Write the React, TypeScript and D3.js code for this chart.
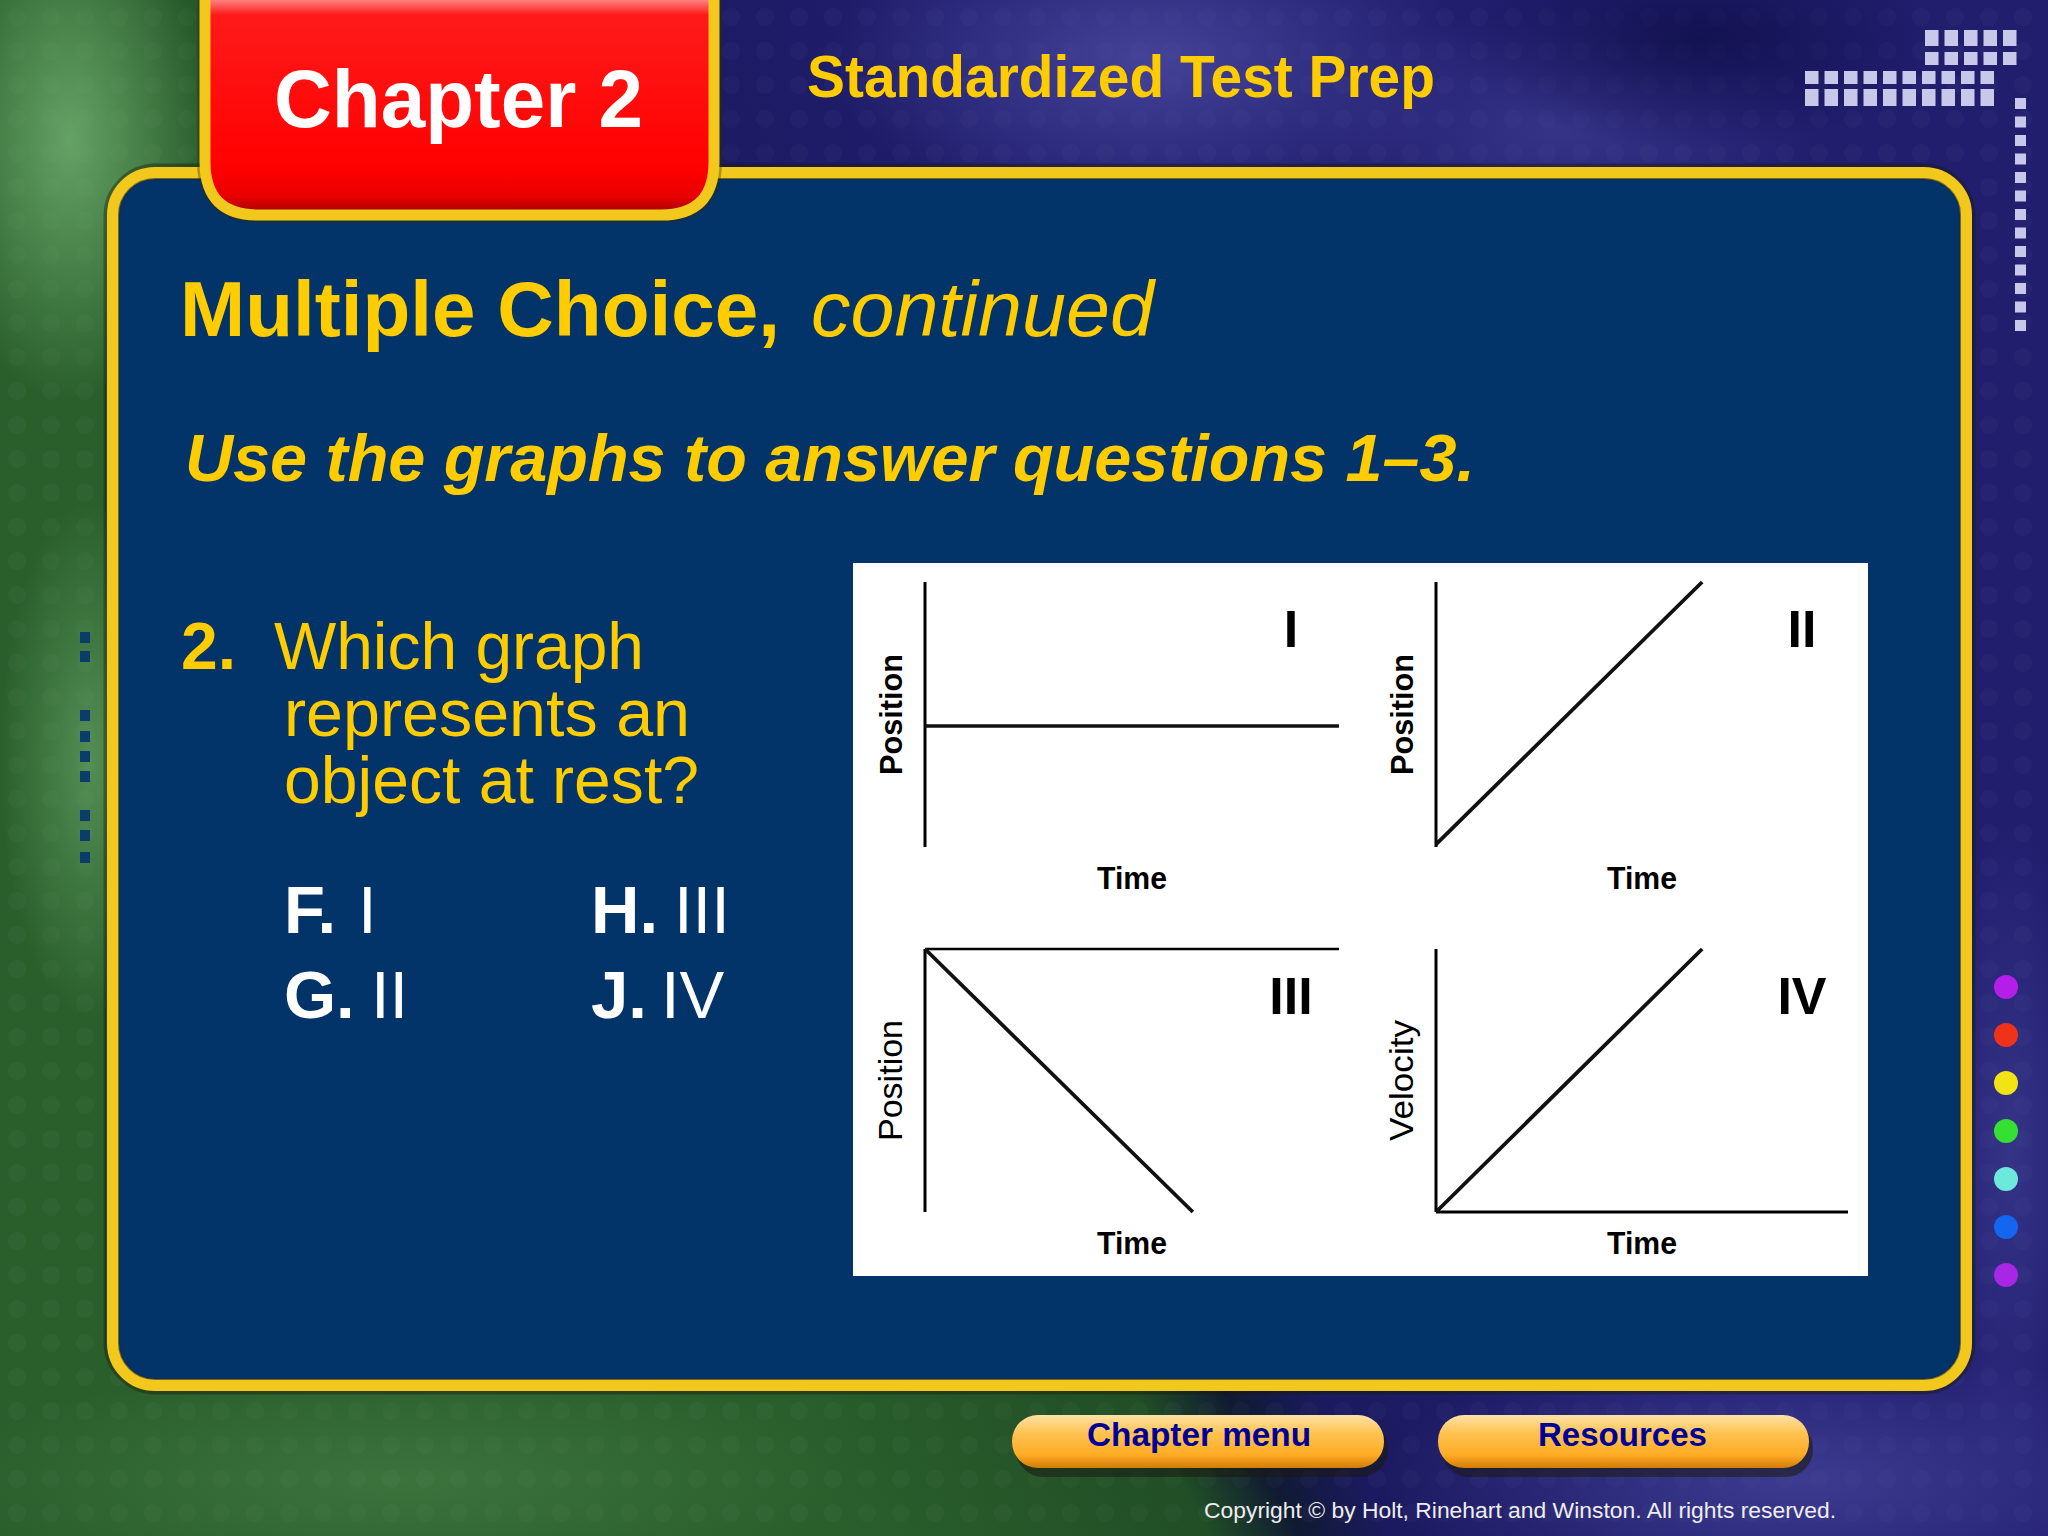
import React from 'react';
import * as d3 from 'd3';

// ---------- data ----------
const graphIds = ['I', 'II', 'III', 'IV'];
const yAxisLabels = ['Position', 'Position', 'Position', 'Velocity'];
const yLabelBold = [true, true, false, false];
const xAxisLabel = 'Time';
const axisSides = [['left'], ['left'], ['left', 'top'], ['left', 'bottom']];
const seriesI: [number, number][] = [[0, 0.457], [1, 0.457]];
const seriesII: [number, number][] = [[0, 0.01], [0.646, 1]];
const seriesIII: [number, number][] = [[0, 1], [0.647, 0]];
const seriesIV: [number, number][] = [[0, 0], [0.646, 1]];
const seriesList = [seriesI, seriesII, seriesIII, seriesIV];

const questionNumber = '2.';
const questionLines = ['Which graph', 'represents an', 'object at rest?'];
const choiceLetters = ['F.', 'G.', 'H.', 'J.'];
const choiceValues = ['I', 'II', 'III', 'IV'];
const navButtons = ['Chapter menu', 'Resources'];
const dotColors = ['#b41ee8', '#f0321a', '#f2e414', '#34e032', '#6ce8dc', '#1466f0', '#a826e6'];
const leftSquareRows = [632, 651, 710, 731, 751, 771, 810, 830, 852];

const FONT = '"Liberation Sans", Arial, Helvetica, sans-serif';

export default function App() {
  React.useEffect(() => {
    document.body.style.margin = '0';
  }, []);

  const W = 2048;
  const H = 1536;

  // graph frames (layout)
  const frames = [
    { x0: 925, x1: 1339, y0: 582, y1: 847 },
    { x0: 1436, x1: 1848, y0: 582, y1: 847 },
    { x0: 925, x1: 1339, y0: 949, y1: 1212 },
    { x0: 1436, x1: 1848, y0: 949, y1: 1212 },
  ];

  const graphs = frames.map((f, i) => {
    const x = d3.scaleLinear().domain([0, 1]).range([f.x0, f.x1]);
    const y = d3.scaleLinear().domain([0, 1]).range([f.y1, f.y0]);
    const line = d3
      .line<[number, number]>()
      .x((d) => x(d[0]))
      .y((d) => y(d[1]));
    return { f, x, y, path: line(seriesList[i]) || '', i };
  });

  const topRowSquares: { x: number; y: number; w: number; h: number }[] = [];
  for (let k = 0; k < 5; k++) topRowSquares.push({ x: 1925 + k * 19.5, y: 30, w: 13.5, h: 16 });
  for (let k = 0; k < 5; k++) topRowSquares.push({ x: 1925 + k * 19.5, y: 52, w: 13.5, h: 13 });
  for (let k = 0; k < 10; k++) topRowSquares.push({ x: 1805 + k * 19.5, y: 71, w: 13.5, h: 13 });
  for (let k = 0; k < 10; k++) topRowSquares.push({ x: 1805 + k * 19.5, y: 89, w: 13.5, h: 17 });
  for (let k = 0; k < 13; k++) topRowSquares.push({ x: 2015, y: 98 + k * 18.5, w: 11, h: 11 });

  return (
    <svg
      width={W}
      height={H}
      viewBox={`0 0 ${W} ${H}`}
      style={{ position: 'absolute', left: 0, top: 0, display: 'block' }}
      fontFamily={FONT}
    >
      <defs>
        <linearGradient id="bg" gradientUnits="userSpaceOnUse" x1="545" y1="953" x2="1255" y2="583">
          <stop offset="0" stopColor="#2a5f2c" />
          <stop offset="0.4" stopColor="#214e26" />
          <stop offset="0.5" stopColor="#101a32" />
          <stop offset="0.6" stopColor="#1b1a60" />
          <stop offset="1" stopColor="#211e6e" />
        </linearGradient>
        <radialGradient id="glowGreen" cx="0.5" cy="0.5" r="0.5">
          <stop offset="0" stopColor="#78b878" stopOpacity="0.75" />
          <stop offset="1" stopColor="#78b878" stopOpacity="0" />
        </radialGradient>
        <radialGradient id="glowPurple" cx="0.5" cy="0.5" r="0.5">
          <stop offset="0" stopColor="#5252aa" stopOpacity="0.7" />
          <stop offset="1" stopColor="#5252aa" stopOpacity="0" />
        </radialGradient>
        <radialGradient id="glowDark" cx="0.5" cy="0.5" r="0.5">
          <stop offset="0" stopColor="#0c0c44" stopOpacity="0.7" />
          <stop offset="1" stopColor="#0c0c44" stopOpacity="0" />
        </radialGradient>
        <linearGradient id="tabRed" gradientUnits="userSpaceOnUse" x1="0" y1="0" x2="0" y2="212">
          <stop offset="0" stopColor="#ff8080" />
          <stop offset="0.07" stopColor="#ff1a1a" />
          <stop offset="0.8" stopColor="#ff0000" />
          <stop offset="0.93" stopColor="#e80000" />
          <stop offset="1" stopColor="#a80000" />
        </linearGradient>
        <linearGradient id="btn" x1="0" y1="0" x2="0" y2="1">
          <stop offset="0" stopColor="#ffe2a6" />
          <stop offset="0.35" stopColor="#ffc250" />
          <stop offset="0.75" stopColor="#ffac26" />
          <stop offset="1" stopColor="#d27c06" />
        </linearGradient>
        <pattern id="dots" width="34" height="34" patternUnits="userSpaceOnUse">
          <circle cx="17" cy="17" r="9" fill="#ffffff" opacity="0.025" />
        </pattern>
      </defs>

      {/* background */}
      <rect x={0} y={0} width={W} height={H} fill="url(#bg)" />
      <rect x={0} y={0} width={W} height={H} fill="url(#dots)" />
      <ellipse cx={70} cy={140} rx={140} ry={260} fill="url(#glowGreen)" />
      <ellipse cx={90} cy={760} rx={90} ry={260} fill="url(#glowGreen)" opacity={0.7} />
      <ellipse cx={400} cy={1480} rx={450} ry={120} fill="url(#glowGreen)" opacity={0.3} />
      <ellipse cx={1150} cy={60} rx={320} ry={160} fill="url(#glowPurple)" />
      <ellipse cx={1560} cy={130} rx={260} ry={120} fill="url(#glowPurple)" opacity={0.6} />
      <ellipse cx={1800} cy={1480} rx={420} ry={140} fill="url(#glowPurple)" opacity={0.8} />
      <ellipse cx={2010} cy={1150} rx={80} ry={330} fill="url(#glowPurple)" opacity={0.6} />
      <ellipse cx={1700} cy={40} rx={240} ry={110} fill="url(#glowDark)" />

      {/* decorative squares */}
      {topRowSquares.map((s, k) => (
        <rect key={'sq' + k} x={s.x} y={s.y} width={s.w} height={s.h} fill="#c8c8ea" />
      ))}
      {leftSquareRows.map((yy, k) => (
        <rect key={'ls' + k} x={80} y={yy} width={10} height={11} fill="#0c3c6c" />
      ))}
      {dotColors.map((c, k) => (
        <circle key={'dot' + k} cx={2006} cy={987 + k * 48} r={12} fill={c} />
      ))}

      {/* main panel */}
      <rect x={111} y={171} width={1857} height={1216} rx={45} fill="none" stroke="#1a1a08" strokeWidth={15} opacity={0.4} />
      <rect x={113} y={173} width={1853} height={1212} rx={42} fill="#02346a" stroke="#f2c81c" strokeWidth={12} />
      <rect x={119} y={179} width={1841} height={1200} rx={36} fill="none" stroke="#1a2a30" strokeWidth={2} opacity={0.6} />

      {/* chapter tab */}
      <path
        d="M 205 -20 V 162 Q 205 215 258 215 H 661 Q 714 215 714 162 V -20"
        fill="none"
        stroke="#3a2a00"
        strokeWidth={16}
        opacity={0.35}
      />
      <path
        d="M 205 -20 V 162 Q 205 215 258 215 H 661 Q 714 215 714 162 V -20 Z"
        fill="url(#tabRed)"
        stroke="#f2c81c"
        strokeWidth={11}
      />
      <text x={274} y={127} fontSize={82} fontWeight="bold" fill="#ffffff" textLength={369} lengthAdjust="spacingAndGlyphs">
        Chapter 2
      </text>
      <text x={807} y={97} fontSize={59} fontWeight="bold" fill="#ffcc00" textLength={628} lengthAdjust="spacingAndGlyphs">
        Standardized Test Prep
      </text>

      {/* headings */}
      <text x={180} y={336} fontSize={78} fontWeight="bold" fill="#ffcc00" textLength={600} lengthAdjust="spacingAndGlyphs">
        Multiple Choice,
      </text>
      <text x={811} y={336} fontSize={78} fontStyle="italic" fill="#ffcc00" textLength={343} lengthAdjust="spacingAndGlyphs">
        continued
      </text>
      <text x={185} y={481} fontSize={66} fontWeight="bold" fontStyle="italic" fill="#ffcc00" textLength={1290} lengthAdjust="spacingAndGlyphs">
        Use the graphs to answer questions 1–3.
      </text>

      {/* question */}
      <text x={181} y={669} fontSize={66} fontWeight="bold" fill="#ffcc00">
        {questionNumber}
      </text>
      {questionLines.map((t, k) => (
        <text
          key={'q' + k}
          x={k === 0 ? 274 : 284}
          y={669 + k * 67}
          fontSize={66}
          fill="#ffcc00"
          textLength={[370, 406, 415][k]}
          lengthAdjust="spacingAndGlyphs"
        >
          {t}
        </text>
      ))}

      {/* choices */}
      {choiceLetters.map((c, k) => {
        const col = k < 2 ? 0 : 1;
        const row = k % 2;
        const lx = col === 0 ? 284 : 591;
        const vx = [358, 371, 674, 661][k];
        const by = row === 0 ? 933 : 1018;
        return (
          <g key={'c' + k}>
            <text x={lx} y={by} fontSize={67} fontWeight="bold" fill="#ffffff">
              {c}
            </text>
            <text x={vx} y={by} fontSize={67} fill="#ffffff">
              {choiceValues[k]}
            </text>
          </g>
        );
      })}

      {/* graphs */}
      <rect x={853} y={563} width={1015} height={713} fill="#ffffff" />
      {graphs.map(({ f, x, y, path, i }) => {
        const [xa, xb] = x.range();
        const [yb, ya] = y.range();
        const sides = axisSides[i];
        return (
          <g key={'g' + i}>
            {sides.includes('left') && (
              <line x1={xa} x2={xa} y1={ya} y2={yb} stroke="#000" strokeWidth={3} />
            )}
            {sides.includes('top') && (
              <line x1={xa} x2={xb} y1={ya} y2={ya} stroke="#000" strokeWidth={2.5} />
            )}
            {sides.includes('bottom') && (
              <line x1={xa} x2={xb} y1={yb} y2={yb} stroke="#000" strokeWidth={3} />
            )}
            <path d={path} fill="none" stroke="#111" strokeWidth={i === 0 ? 3.5 : 3.8} />
            <text
              x={xa + 366}
              y={ya + 65}
              fontSize={52}
              fontWeight="bold"
              textAnchor="middle"
              fill="#000"
            >
              {graphIds[i]}
            </text>
            <text
              transform={`translate(${xa - 23},${(ya + yb) / 2}) rotate(-90)`}
              fontSize={yLabelBold[i] ? 31 : 33}
              fontWeight={yLabelBold[i] ? 'bold' : 'normal'}
              textAnchor="middle"
              fill="#000"
              textLength={121}
              lengthAdjust="spacingAndGlyphs"
            >
              {yAxisLabels[i]}
            </text>
            <text
              x={(xa + xb) / 2}
              y={yb + 42}
              fontSize={31}
              fontWeight="bold"
              textAnchor="middle"
              fill="#000"
              textLength={70}
              lengthAdjust="spacingAndGlyphs"
            >
              {xAxisLabel}
            </text>
          </g>
        );
      })}

      {/* nav buttons */}
      {navButtons.map((b, k) => {
        const bx = k === 0 ? 1012 : 1438;
        const bw = k === 0 ? 372 : 371;
        const tx = k === 0 ? 1087 : 1538;
        const tl = k === 0 ? 224 : 169;
        return (
          <g key={'b' + k}>
            <rect x={bx + 4} y={1421} width={bw} height={56} rx={27} fill="#1a1a10" opacity={0.55} />
            <rect x={bx} y={1415} width={bw} height={53} rx={26} fill="url(#btn)" />
            <text x={tx} y={1446} fontSize={33} fontWeight="bold" fill="#000099" textLength={tl} lengthAdjust="spacingAndGlyphs">
              {b}
            </text>
          </g>
        );
      })}

      <text x={1204} y={1518} fontSize={22} fill="#eeeeee" textLength={632} lengthAdjust="spacingAndGlyphs">
        Copyright © by Holt, Rinehart and Winston. All rights reserved.
      </text>
    </svg>
  );
}
